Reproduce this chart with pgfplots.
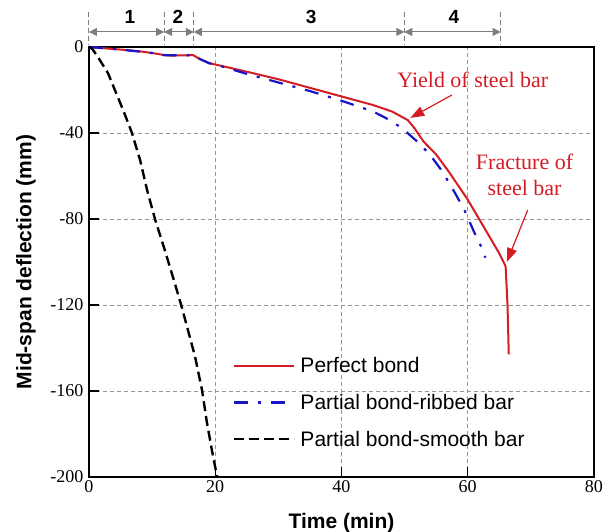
\documentclass[border=0pt]{standalone}
\usepackage{pgfplots}
\pgfplotsset{compat=1.18}
\usepackage{fontspec}
\setmainfont{Liberation Serif}
\setsansfont{Liberation Sans}
\usetikzlibrary{arrows.meta}
\definecolor{cred}{RGB}{212,28,36}
\definecolor{cblue}{RGB}{25,20,200}
\definecolor{cgray}{RGB}{125,125,125}
\begin{document}
\begin{tikzpicture}
\path[use as bounding box] (-89pt,-55pt) rectangle (525pt,477pt);
\begin{axis}[
  at={(0pt,0pt)}, anchor=south west,
  scale only axis, width=505pt, height=430pt,
  xmin=0, xmax=80, ymin=-200, ymax=0,
  xtick={0,20,40,60,80}, ytick={-200,-160,-120,-80,-40,0},
  xtick pos=bottom, ytick pos=left,
  tick align=inside, major tick length=10pt,
  tick style={black, line width=1.2pt},
  axis line style={line width=1.4pt},
  grid=major, grid style={cgray!80, line width=0.7pt, dash pattern=on 4pt off 3pt},
  /pgf/number format/assume math mode=true,
  ticklabel style={font=\fontsize{18}{20}\selectfont},
  yticklabel style={xshift=-2pt},
  xlabel={\sffamily\bfseries Time (min)},
  ylabel={\sffamily\bfseries Mid-span deflection (mm)},
  label style={font=\fontsize{21}{24}\selectfont},
  xlabel style={at={(axis description cs:0.5,-0.107)}, anchor=center},
  ylabel style={at={(axis description cs:-0.1248,0.5)}, anchor=center},
  clip=false,
  legend cell align=left,
  legend style={at={(0.279,0.288)}, anchor=north west, draw=none, fill=none,
    font=\sffamily\fontsize{21}{24}\selectfont, row sep=16pt,
    nodes={inner xsep=5pt}},
  legend image code/.code={\draw[#1] (0pt,0pt) -- (60pt,0pt);},
]
\addplot[cred, line width=2pt] coordinates {
(0,0) (2,-0.5) (5,-1.2) (8,-2) (10,-2.8) (12,-3.8) (13,-4.0) (16.5,-3.8) (17.5,-5.5) (19,-7.5) (21,-8.8) (25,-11.5) (30,-15) (35,-19) (40,-23) (45,-27) (48,-30) (50.5,-34) (51.5,-37.5) (53,-44) (55,-50) (57,-58) (60,-71) (63,-86) (65,-96) (66,-102) (66.3,-120) (66.5,-143)
};
\addlegendentry{Perfect bond}
\addplot[cblue, line width=2.2pt, dash pattern=on 14pt off 10pt on 3pt off 10pt] coordinates {
(0,0) (5,-1.2) (10,-2.8) (12,-3.8) (16.5,-3.8) (17.5,-5.5) (19,-7.5) (21,-9) (25,-12.5) (30,-16.5) (35,-20.5) (40,-25) (45,-30) (47,-33) (49.5,-37.5) (52,-44) (54,-50) (56,-58) (58,-68) (59.5,-76) (61,-86) (62,-92) (62.8,-98)
};
\addlegendentry{Partial bond-ribbed bar}
\addplot[black, line width=2.4pt, dash pattern=on 10pt off 5pt] coordinates {
(0,0) (0.5,-0.8) (1.4,-4.6) (3.0,-12.1) (4.1,-20) (5.5,-30) (6.8,-40) (8.1,-52.6) (9.2,-66.5) (10.5,-80.5) (12.0,-94.4) (13.4,-108) (14.7,-121) (16.8,-144) (17.9,-159.5) (18.7,-175) (19.5,-188) (20.3,-200)
};
\addlegendentry{Partial bond-smooth bar}
% stage markers
\draw[cgray, line width=1pt, dash pattern=on 5pt off 3pt] (axis cs:0,16.3) -- (axis cs:0,0.9);
\draw[cgray, line width=1pt, dash pattern=on 5pt off 3pt] (axis cs:11.9,16.3) -- (axis cs:11.9,0.9);
\draw[cgray, line width=1pt, dash pattern=on 5pt off 3pt] (axis cs:16.6,16.3) -- (axis cs:16.6,0.9);
\draw[cgray, line width=1pt, dash pattern=on 5pt off 3pt] (axis cs:49.95,16.3) -- (axis cs:49.95,0.9);
\draw[cgray, line width=1pt, dash pattern=on 5pt off 3pt] (axis cs:65.2,16.3) -- (axis cs:65.2,0.9);
\draw[cgray, line width=1pt, {Triangle[length=8pt,width=8pt]}-{Triangle[length=8pt,width=8pt]}] (axis cs:0,7) -- (axis cs:11.9,7);
\draw[cgray, line width=1pt, {Triangle[length=8pt,width=8pt]}-{Triangle[length=8pt,width=8pt]}] (axis cs:11.9,7) -- (axis cs:16.6,7);
\draw[cgray, line width=1pt, {Triangle[length=8pt,width=8pt]}-{Triangle[length=8pt,width=8pt]}] (axis cs:16.6,7) -- (axis cs:49.95,7);
\draw[cgray, line width=1pt, {Triangle[length=8pt,width=8pt]}-{Triangle[length=8pt,width=8pt]}] (axis cs:49.95,7) -- (axis cs:65.2,7);
\node[font=\sffamily\bfseries\fontsize{19}{22}\selectfont] at (axis cs:6.5,14) {1};
\node[font=\sffamily\bfseries\fontsize{19}{22}\selectfont] at (axis cs:14.1,14) {2};
\node[font=\sffamily\bfseries\fontsize{19}{22}\selectfont] at (axis cs:35.2,14) {3};
\node[font=\sffamily\bfseries\fontsize{19}{22}\selectfont] at (axis cs:57.8,14) {4};
% annotations
\node[cred, font=\fontsize{22}{26}\selectfont] at (axis cs:60.8,-15.3) {Yield of steel bar};
\draw[cred, line width=1.2pt, -{Triangle[length=14pt,width=10pt]}] (axis cs:57.5,-22.3) -- (axis cs:50.9,-33);
\node[cred, font=\fontsize{22}{26}\selectfont, align=center] at (axis cs:69.0,-59.5) {Fracture of\\steel bar};
\draw[cred, line width=1.2pt, -{Triangle[length=14pt,width=10pt]}] (axis cs:69.5,-75.8) -- (axis cs:66.2,-100);
\end{axis}
\end{tikzpicture}
\end{document}
